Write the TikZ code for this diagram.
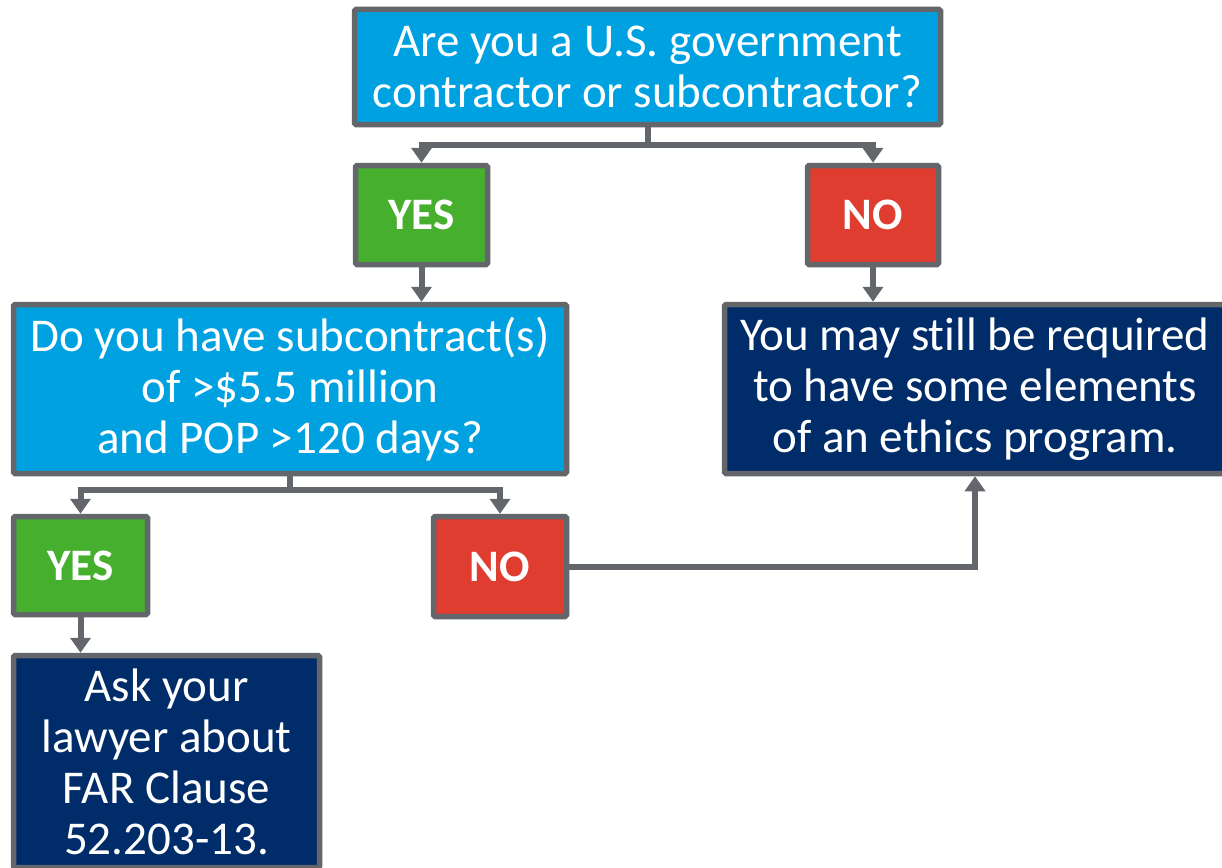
\documentclass[tikz,border=0pt]{standalone}
\usepackage{fontspec}
\setmainfont{Carlito}[Ligatures=NoCommon]
\usepackage{tikz}
\usetikzlibrary{arrows.meta}
\definecolor{askblue}{RGB}{0,161,224}
\definecolor{yesgreen}{RGB}{70,175,45}
\definecolor{nored}{RGB}{224,61,49}
\definecolor{infonavy}{RGB}{0,45,106}
\definecolor{linegray}{RGB}{99,102,106}
\begin{document}
\begin{tikzpicture}[x=1pt,y=-1pt,box/.style n args={3}{draw=linegray,fill=#1,line width=5.5pt,rounded corners=1.5pt,text=white,align=center,inner sep=0pt,minimum width=#2pt,minimum height=#3pt,font=\fontsize{47}{51}\selectfont},ans/.style={font=\fontsize{45}{48}\selectfont\bfseries},conn/.style={draw=linegray,line width=6pt},arr/.style={conn,-{Triangle[width=20pt,length=15pt]}}]
\clip (0,0) rectangle (1222,867);
\useasboundingbox (0,0) rectangle (1222,867);
\node[box={askblue}{586}{115}] (q1) at (647.5,67) {Are you a U.S. government\\contractor or subcontractor?};
\node[box={yesgreen}{132}{99},ans] (yes1) at (421.5,215) {YES};
\node[box={nored}{131}{99},ans] (no1) at (873,215) {NO};
\node[box={askblue}{553}{169}] (q2) at (290,389) {Do you have subcontract(s)\\of >\$5.5 million\\and POP >120 days?};
\node[box={infonavy}{501}{169}] (info) at (975,389) {You may still be required\\to have some elements\\of an ethics program.};
\node[box={yesgreen}{134}{98},ans] (yes2) at (80.5,565.5) {YES};
\node[box={nored}{133}{100},ans] (no2) at (500,566.5) {NO};
\node[box={infonavy}{306}{212}] (lawyer) at (166.5,761.5) {Ask your\\lawyer about\\FAR Clause\\52.203-13.};
% first split
\draw[conn] (q1.south) -- (q1.south |- 0,145) coordinate (s1);
\foreach \n in {yes1,no1} {
   \draw[arr] (s1) -| (\n.north);
}
\draw[arr] (yes1.south) -- (q2.north -| yes1.south);
\draw[arr] (no1.south) -- (info.north -| no1.south);
% second split
\draw[conn] (q2.south) -- (q2.south |- 0,490) coordinate (s2);
\foreach \n in {yes2,no2} {
   \draw[arr] (s2) -| (\n.north);
}
\draw[arr] (yes2.south) -- (lawyer.north -| yes2.south);
\draw[arr] (no2.east) -| (info.south);
\end{tikzpicture}
\end{document}
